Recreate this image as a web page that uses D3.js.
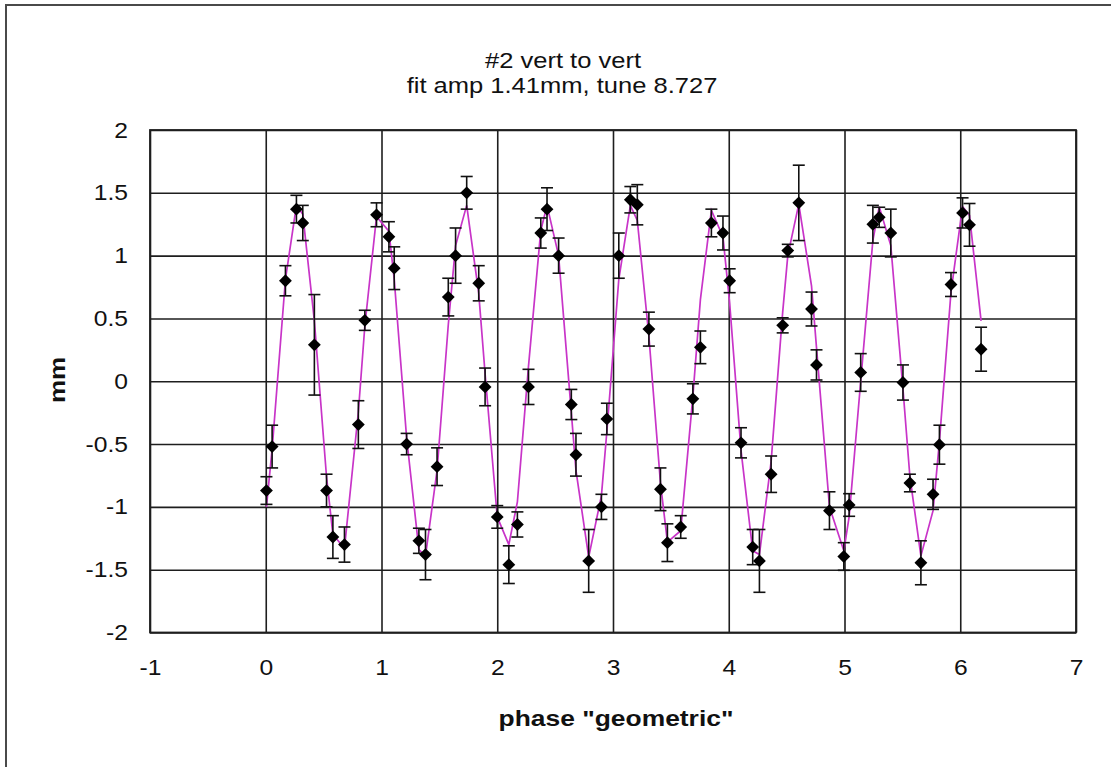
<!DOCTYPE html>
<html>
<head>
<meta charset="utf-8">
<script src="https://cdn.jsdelivr.net/npm/d3@7"></script>
<style>
  html, body { margin: 0; padding: 0; background: #fff; }
  svg { display: block; }
  text { font-family: "Liberation Sans", Arial, sans-serif; fill: #111; }
</style>
</head>
<body>
<svg id="chart" width="1111" height="767"></svg>
<script>
// ---- data ----
const titleLines = ["#2 vert to vert", "fit amp 1.41mm, tune 8.727"];
const xLabel = "phase \"geometric\"";
const yLabel = "mm";
const xTicks = [-1, 0, 1, 2, 3, 4, 5, 6, 7];
const yTicks = [-2, -1.5, -1, -0.5, 0, 0.5, 1, 1.5, 2];

const phase = [0.006,0.055,0.17,0.265,0.32,0.42,0.525,0.58,0.68,0.80,
  0.856,0.957,1.064,1.11,1.217,1.323,1.38,1.48,1.577,1.64,
  1.736,1.84,1.895,2.0,2.10,2.174,2.27,2.376,2.43,2.53,
  2.64,2.68,2.79,2.90,2.947,3.05,3.15,3.21,3.31,3.41,
  3.47,3.585,3.69,3.755,3.85,3.95,4.008,4.106,4.207,4.265,
  4.366,4.466,4.51,4.605,4.715,4.758,4.87,4.994,5.04,5.14,
  5.245,5.30,5.40,5.505,5.565,5.66,5.765,5.82,5.92,6.02,6.08,6.18];

const measured = [-0.87,-0.52,0.80,1.37,1.26,0.29,-0.87,-1.24,-1.30,-0.345,
  0.485,1.325,1.15,0.90,-0.50,-1.27,-1.38,-0.68,0.67,1.00,
  1.50,0.78,-0.045,-1.08,-1.46,-1.14,-0.045,1.18,1.37,1.00,
  -0.185,-0.585,-1.43,-1.00,-0.30,1.00,1.445,1.405,0.415,-0.86,
  -1.285,-1.16,-0.14,0.27,1.26,1.18,0.80,-0.49,-1.32,-1.43,
  -0.74,0.445,1.04,1.42,0.575,0.13,-1.03,-1.395,-0.985,0.07,
  1.25,1.305,1.18,-0.01,-0.81,-1.445,-0.90,-0.505,0.77,1.34,1.245,0.255];

const errorBar = [0.11,0.17,0.12,0.11,0.14,0.40,0.13,0.17,0.14,0.19,
  0.08,0.095,0.12,0.17,0.085,0.10,0.20,0.15,0.15,0.22,
  0.13,0.14,0.15,0.09,0.15,0.10,0.14,0.12,0.17,0.14,
  0.12,0.17,0.25,0.10,0.125,0.18,0.105,0.16,0.135,0.17,
  0.15,0.09,0.12,0.13,0.11,0.135,0.095,0.12,0.14,0.25,
  0.145,0.06,0.05,0.30,0.135,0.12,0.15,0.11,0.09,0.15,
  0.15,0.08,0.19,0.14,0.07,0.175,0.12,0.155,0.095,0.12,0.17,0.175];

const fitValues = [-1.00,-0.54,0.81,1.40,1.33,0.48,-0.76,-1.22,-1.33,-0.245,
  0.44,1.31,1.195,0.81,-0.45,-1.34,-1.39,-0.71,0.45,1.08,
  1.40,0.70,0.06,-1.08,-1.30,-0.96,0.12,1.20,1.40,1.00,
  -0.25,-0.71,-1.40,-0.91,-0.40,0.81,1.40,1.28,0.36,-0.81,
  -1.28,-1.19,-0.12,0.65,1.36,1.15,0.62,-0.55,-1.35,-1.38,
  -0.64,0.55,1.00,1.41,0.76,0.27,-1.00,-1.35,-1.08,0.00,
  1.12,1.39,1.08,-0.06,-0.76,-1.39,-1.03,-0.48,0.71,1.39,1.32,0.48];

// ---- layout ----
const svg = d3.select("#chart");
const plot = { left: 150, right: 1076, top: 130, bottom: 632.5 };
const W = plot.right - plot.left, H = plot.bottom - plot.top;

const x = d3.scaleLinear().domain([-1, 7]).range([plot.left, plot.right]);
const y = d3.scaleLinear().domain([-2, 2]).range([plot.bottom, plot.top]);

// stretch text horizontally (reference glyphs are wider than their height suggests)
function stretch(sel, factor) {
  sel.each(function () {
    const len = this.getComputedTextLength();
    d3.select(this).attr("textLength", len * factor).attr("lengthAdjust", "spacingAndGlyphs");
  });
}

// outer chart border (extends past right/bottom edge as in reference)
svg.append("rect").attr("x", 6).attr("y", 5).attr("width", 1200).attr("height", 900)
  .attr("fill", "#fff").attr("stroke", "#4a4a4a").attr("stroke-width", 2);

// gridlines + tick labels via axes
const fmt = d => String(d);
const yAxis = d3.axisLeft(y).tickValues(yTicks).tickFormat(fmt)
  .tickSizeInner(-W).tickSizeOuter(0).tickPadding(22);
const xAxis = d3.axisBottom(x).tickValues(xTicks).tickFormat(fmt)
  .tickSizeInner(-H).tickSizeOuter(0).tickPadding(27);

const gy = svg.append("g").attr("transform", `translate(${plot.left},0)`).call(yAxis);
const gx = svg.append("g").attr("transform", `translate(0,${plot.bottom})`).call(xAxis);
[gx, gy].forEach(g => {
  g.select(".domain").remove();
  g.selectAll(".tick line").attr("stroke", "#1e1e1e").attr("stroke-width", 1.6);
  g.selectAll(".tick text").attr("font-size", 22).attr("fill", "#222")
    .attr("font-family", "'Liberation Sans', Arial, sans-serif");
  stretch(g.selectAll(".tick text"), 1.12);
});

// plot border
svg.append("rect").attr("x", plot.left).attr("y", plot.top).attr("width", W).attr("height", H)
  .attr("fill", "none").attr("stroke", "#1e1e1e").attr("stroke-width", 1.8);

// fit line
const fitData = phase.map((p, i) => [p, fitValues[i]]);
svg.append("path").datum(fitData)
  .attr("d", d3.line().x(d => x(d[0])).y(d => y(d[1])))
  .attr("fill", "none").attr("stroke", "#c834c8").attr("stroke-width", 1.7);

// error bars
const pts = phase.map((p, i) => ({ p, v: measured[i], e: errorBar[i] }));
const eb = svg.append("g").attr("stroke", "#111").attr("stroke-width", 1.6);
const cap = 6;
pts.forEach(d => {
  const cx = x(d.p), y1 = y(d.v + d.e), y2 = y(d.v - d.e);
  eb.append("line").attr("x1", cx).attr("x2", cx).attr("y1", y1).attr("y2", y2);
  eb.append("line").attr("x1", cx - cap).attr("x2", cx + cap).attr("y1", y1).attr("y2", y1);
  eb.append("line").attr("x1", cx - cap).attr("x2", cx + cap).attr("y1", y2).attr("y2", y2);
});

// diamond markers
const diamond = d3.symbol().type(d3.symbolDiamond2).size(105);
svg.append("g").selectAll("path").data(pts).join("path")
  .attr("transform", d => `translate(${x(d.p)},${y(d.v)})`)
  .attr("d", diamond).attr("fill", "#000");

// titles
const t1 = svg.append("text").attr("x", 563).attr("y", 68).attr("text-anchor", "middle")
  .attr("font-size", 22).attr("fill", "#222").text(titleLines[0]);
const t2 = svg.append("text").attr("x", 562).attr("y", 93).attr("text-anchor", "middle")
  .attr("font-size", 22).attr("fill", "#222").text(titleLines[1]);
stretch(t1, 1.16);
stretch(t2, 1.16);

const xt = svg.append("text").attr("x", 616).attr("y", 726).attr("text-anchor", "middle")
  .attr("font-size", 22).attr("font-weight", "bold").text(xLabel);
stretch(xt, 1.2);

const yt = svg.append("text").attr("transform", "translate(65,380) rotate(-90)")
  .attr("text-anchor", "middle").attr("font-size", 22).attr("font-weight", "bold").text(yLabel);
stretch(yt, 1.18);
</script>
</body>
</html>
